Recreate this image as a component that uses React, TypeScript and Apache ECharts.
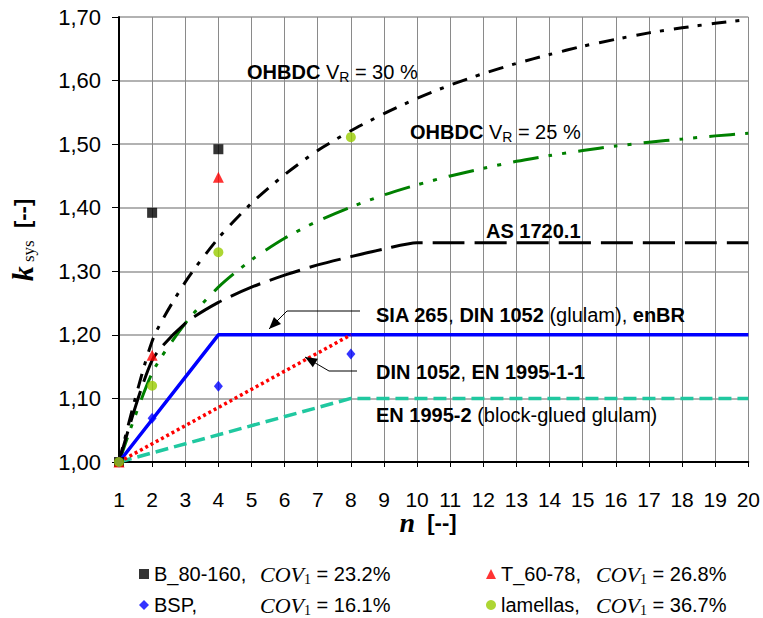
import React, { useEffect, useRef } from 'react';
import * as echarts from 'echarts';

const SANS = '"Liberation Sans", Arial, sans-serif';
const SERIF = '"Liberation Serif", "Times New Roman", serif';

// Curves (n, k_sys)
const ohbdc30: [number, number][] = [
  [1, 1.0], [2, 1.19], [3, 1.283], [4, 1.352], [5, 1.407], [6, 1.452], [7, 1.49], [8, 1.521],
  [9, 1.548], [10, 1.572], [11, 1.593], [12, 1.611], [13, 1.627], [14, 1.641], [15, 1.654],
  [16, 1.665], [17, 1.675], [18, 1.683], [19, 1.69], [20, 1.696],
];
const ohbdc25: [number, number][] = [
  [1, 1.0], [2, 1.14], [3, 1.218], [4, 1.275], [5, 1.318], [6, 1.352], [7, 1.379], [8, 1.401],
  [9, 1.42], [10, 1.436], [11, 1.45], [12, 1.462], [13, 1.473], [14, 1.482], [15, 1.49],
  [16, 1.497], [17, 1.503], [18, 1.508], [19, 1.513], [20, 1.517],
];
const as1720: [number, number][] = [
  [1, 1.0], [2, 1.16], [3, 1.218], [4, 1.251], [5, 1.275], [6, 1.294], [7, 1.31], [8, 1.323],
  [9, 1.335], [10, 1.345], [20, 1.345],
];
const sia265: [number, number][] = [[1, 1.0], [4, 1.2], [20, 1.2]];
const din1052: [number, number][] = [[1, 1.0], [8, 1.2]];
const en19952: [number, number][] = [[1, 1.0], [8, 1.1], [20, 1.1]];

// Test results
const b80160: [number, number][] = [[1, 1.0], [2, 1.392], [4, 1.492]];
const t6078: [number, number][] = [[1, 1.0], [2, 1.168], [4, 1.448]];
const bsp: [number, number][] = [[1, 1.0], [2, 1.069], [4, 1.119], [8, 1.17]];
const lamellas: [number, number][] = [[1, 1.0], [2, 1.12], [4, 1.33], [8, 1.511]];

const legendNames = ['B_80-160', 'BSP', 'T_60-78', 'lamellas'];
const legendLabels = ['B_80-160,', 'BSP,', 'T_60-78,', 'lamellas,'];
const legendCov = ['23.2%', '16.1%', '26.8%', '36.7%'];

function arrowHead(tail: number[], tip: number[], len: number, half: number) {
  const dx = tip[0] - tail[0];
  const dy = tip[1] - tail[1];
  const d = Math.sqrt(dx * dx + dy * dy);
  const ux = dx / d, uy = dy / d;
  const bx = tip[0] - ux * len, by = tip[1] - uy * len;
  return [tip, [bx - uy * half, by + ux * half], [bx + uy * half, by - ux * half]];
}

export default function App() {
  const ref = useRef<HTMLDivElement>(null);
  useEffect(() => {
    const chart = echarts.init(ref.current!, null, { renderer: 'svg' });

    const legendRich = (w: number) => ({
      n: { fontFamily: SANS, fontSize: 20, color: '#000', width: w, lineHeight: 24 },
      c: { fontFamily: SERIF, fontStyle: 'italic', fontSize: 22, color: '#000', lineHeight: 24 },
      s: { fontFamily: SERIF, fontSize: 14, color: '#000', lineHeight: 12, verticalAlign: 'bottom' },
      e: { fontFamily: SANS, fontSize: 20, color: '#000', lineHeight: 24 },
    });
    const legendFmt = (name: string) => {
      const i = legendNames.indexOf(name);
      return `{n|${legendLabels[i]}}{c|COV}{s|1}{e| = ${legendCov[i]}}`;
    };

    const annRich = {
      b: { fontFamily: SANS, fontSize: 20, fontWeight: 'bold', fill: '#000', lineHeight: 24 },
      r: { fontFamily: SANS, fontSize: 20, fill: '#000', lineHeight: 24 },
      s: { fontFamily: SANS, fontSize: 14, fill: '#000', lineHeight: 12, verticalAlign: 'bottom' },
    };
    const ann = (x: number, y: number, text: string) => ({
      type: 'text', x, y, z: 100,
      style: { text, rich: annRich, align: 'left', verticalAlign: 'middle', fill: '#000' },
    });

    const a1 = [[360, 311], [287, 311], [269, 329]];
    const a2 = [[357, 371], [329, 371], [305, 357]];

    const legendBase = {
      top: 563, orient: 'vertical', itemGap: 8, itemWidth: 10, itemHeight: 10,
      itemTextGap: 10, padding: 0, height: 60, width: 300, formatter: legendFmt,
    };

    const option: any = {
      animation: false,
      backgroundColor: '#fff',
      grid: { left: 119, right: 14, top: 17, bottom: 156, containLabel: false },
      xAxis: {
        type: 'value', min: 1, max: 20, interval: 1,
        axisLine: { show: true, onZero: false, lineStyle: { color: '#000', width: 2 } },
        axisTick: { show: true, length: 5, lineStyle: { color: '#000', width: 1 } },
        axisLabel: { fontFamily: SANS, fontSize: 21, color: '#000', margin: 27 },
        splitLine: { show: true, lineStyle: { color: '#8a8a8a', width: 1 } },
      },
      yAxis: {
        type: 'value', min: 1, max: 1.7, interval: 0.1,
        axisLine: { show: true, lineStyle: { color: '#000', width: 2 } },
        axisTick: { show: true, length: 7, lineStyle: { color: '#000', width: 1 } },
        axisLabel: {
          fontFamily: SANS, fontSize: 22, color: '#000', margin: 18,
          formatter: (v: number) => v.toFixed(2).replace('.', ','),
        },
        splitLine: { show: true, lineStyle: { color: '#999', width: 1.5 } },
      },
      legend: [
        { ...legendBase, left: 139, data: ['B_80-160', 'BSP'], textStyle: { rich: legendRich(106) } },
        { ...legendBase, left: 486, width: 270, data: ['T_60-78', 'lamellas'], textStyle: { rich: legendRich(95) } },
      ],
      series: [
        {
          name: 'OHBDC VR=30%', type: 'line', data: ohbdc30, showSymbol: false, smooth: 0.25,
          lineStyle: { color: '#000', width: 3, type: [15, 9, 4, 10] }, z: 3,
        },
        {
          name: 'OHBDC VR=25%', type: 'line', data: ohbdc25, showSymbol: false, smooth: 0.25,
          lineStyle: { color: '#008000', width: 3, type: [26, 10, 4, 10, 4, 12] }, z: 3,
        },
        {
          name: 'AS 1720.1', type: 'line', data: as1720, showSymbol: false, smooth: 0.25,
          lineStyle: { color: '#000', width: 3, type: [32, 10] }, z: 3,
        },
        {
          name: 'SIA 265', type: 'line', data: sia265, showSymbol: false,
          lineStyle: { color: '#0000ff', width: 3.5, type: 'solid' }, z: 4,
        },
        {
          name: 'DIN 1052', type: 'line', data: din1052, showSymbol: false,
          lineStyle: { color: '#ff0000', width: 3.5, type: [3, 3] }, z: 4,
        },
        {
          name: 'EN 1995-2', type: 'line', data: en19952, showSymbol: false,
          lineStyle: { color: '#20c8a0', width: 3.5, type: [13, 6] }, z: 3,
        },
        {
          name: 'B_80-160', type: 'scatter', data: b80160, symbol: 'rect', symbolSize: 10,
          itemStyle: { color: '#000' }, z: 10,
        },
        {
          name: 'T_60-78', type: 'scatter', data: t6078, symbol: 'triangle', symbolSize: 11,
          itemStyle: { color: '#ff0000' }, z: 10,
        },
        {
          name: 'BSP', type: 'scatter', data: bsp, symbol: 'diamond', symbolSize: [9, 11],
          itemStyle: { color: '#0000ff' }, z: 10,
        },
        {
          name: 'lamellas', type: 'scatter', data: lamellas, symbol: 'circle', symbolSize: 10,
          itemStyle: { color: '#99cc00' }, z: 10,
        },
      ],
      graphic: [
        ann(247, 72, '{b|OHBDC}{r| V}{s|R}{r| = 30 %}'),
        ann(410, 132, '{b|OHBDC}{r| V}{s|R}{r| = 25 %}'),
        ann(486, 231, '{b|AS 1720.1}'),
        ann(376, 315, '{b|SIA 265}{r|, }{b|DIN 1052}{r| (glulam), }{b|enBR}'),
        ann(376, 372, '{b|DIN 1052}{r|, }{b|EN 1995-1-1}'),
        ann(376, 415, '{b|EN 1995-2}{r| (block-glued glulam)}'),
        {
          type: 'polyline', z: 100, shape: { points: a1.slice(0, 3) },
          style: { stroke: '#000', lineWidth: 1, fill: 'none' },
        },
        {
          type: 'polygon', z: 100, shape: { points: arrowHead(a1[1], a1[2], 12, 5) },
          style: { fill: '#000' },
        },
        {
          type: 'polyline', z: 100, shape: { points: a2.slice(0, 3) },
          style: { stroke: '#000', lineWidth: 1, fill: 'none' },
        },
        {
          type: 'polygon', z: 100, shape: { points: arrowHead(a2[1], a2[2], 12, 5) },
          style: { fill: '#000' },
        },
        {
          type: 'text', x: 22, y: 240, rotation: Math.PI / 2, z: 100,
          style: {
            text: '{k|k}{s| sys}{b|  [--]}', align: 'center', verticalAlign: 'middle',
            rich: {
              k: { fontFamily: SERIF, fontStyle: 'italic', fontWeight: 'bold', fontSize: 30, fill: '#000', lineHeight: 30 },
              s: { fontFamily: SERIF, fontSize: 17, fill: '#000', lineHeight: 18, verticalAlign: 'bottom' },
              b: { fontFamily: SANS, fontWeight: 'bold', fontSize: 22, fill: '#000', lineHeight: 30 },
            },
          },
        },
        {
          type: 'text', x: 428, y: 522, z: 100,
          style: {
            text: '{n|n}{b|  [--]}', align: 'center', verticalAlign: 'middle',
            rich: {
              n: { fontFamily: SERIF, fontStyle: 'italic', fontWeight: 'bold', fontSize: 28, fill: '#000', lineHeight: 30 },
              b: { fontFamily: SANS, fontWeight: 'bold', fontSize: 22, fill: '#000', lineHeight: 30 },
            },
          },
        },
      ],
    };
    chart.setOption(option);
    return () => chart.dispose();
  }, []);
  return <div ref={ref} style={{ position: 'fixed', left: 0, top: 0, width: 763, height: 618 }} />;
}
